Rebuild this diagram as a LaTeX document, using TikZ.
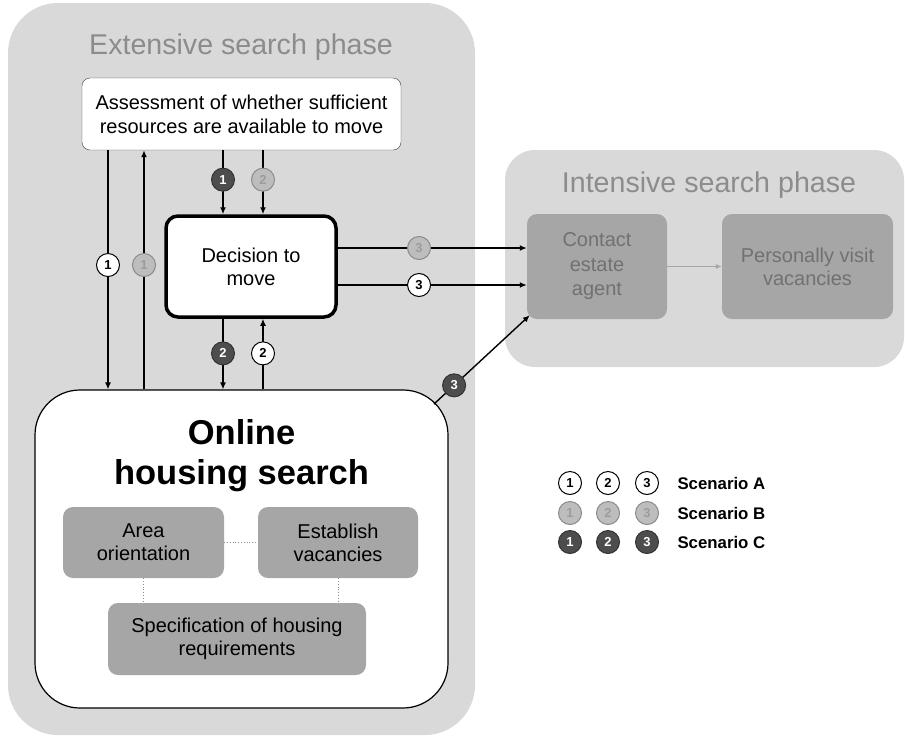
\documentclass[tikz,border=0pt]{standalone}
\usepackage{fontspec}
\setmainfont{Liberation Sans}
\usetikzlibrary{arrows.meta}
\definecolor{bggray}{HTML}{D9D9D9}
\definecolor{titlegray}{HTML}{8C8C8C}
\definecolor{boxgray}{HTML}{A6A6A6}
\definecolor{fadetext}{HTML}{717171}
\definecolor{midfill}{HTML}{BDBDBD}
\definecolor{midline}{HTML}{8A8A8A}
\definecolor{midtext}{HTML}{9C9C9C}
\definecolor{darkfill}{HTML}{4D4D4D}

\begin{document}
\begin{tikzpicture}[x=1pt,y=-1pt,
  phasetitle/.style={text=titlegray,font=\fontsize{28.6}{32}\selectfont},
  whitebox/.style={draw=black!75,fill=white,rounded corners=8pt,align=center,inner sep=0pt,font=\fontsize{20}{24}\selectfont},
  graybox/.style={fill=boxgray,rounded corners=10pt,align=center,inner sep=0pt,font=\fontsize{20}{23}\selectfont},
  arr/.style={line width=1.4pt,-{Latex[length=7pt,width=6pt]}},
  dots/.style={draw=black!45,dotted,line width=0.8pt},
  sc/.style={circle,line width=1pt,minimum size=23pt,inner sep=0pt,font=\fontsize{13}{13}\selectfont\bfseries},
  scA/.style={sc,draw=black,fill=white,text=black},
  scB/.style={sc,draw=midline,fill=midfill,text=midtext},
  scC/.style={sc,draw=black!80,fill=darkfill,text=white}]
\useasboundingbox (0,0) rectangle (905,737);

% the two phases
\fill[bggray,rounded corners=50pt] (8,3) rectangle (475,735);
\fill[bggray,rounded corners=30pt] (505,150) rectangle (904,367);
\node[phasetitle] (exttitle) at (241,47) {Extensive search phase};
\node[phasetitle] (inttitle) at (709,185) {Intensive search phase};

% boxes
\node[whitebox,minimum width=319pt,minimum height=72pt] (assess) at (241.5,114) {Assessment of whether sufficient\\resources are available to move};
\node[whitebox,line width=3.5pt,draw=black,rounded corners=12pt,minimum width=170pt,minimum height=101pt,font=\fontsize{20}{23}\selectfont] (decide) at (251,266.5) {Decision to\\move};
\node[draw=black,line width=1.2pt,fill=white,rounded corners=45pt,minimum width=413pt,minimum height=318pt] (online) at (241.5,549) {};
\node[align=center,font=\fontsize{34.5}{40}\selectfont\bfseries] (onlinetitle) at (241.5,456) {Online\\housing search};
\node[graybox,minimum width=161pt,minimum height=71pt] (area) at (143.5,542.5) {Area\\orientation};
\node[graybox,minimum width=160pt,minimum height=71pt] (establish) at (338,542.5) {Establish\\vacancies};
\node[graybox,minimum width=258pt,minimum height=72pt] (spec) at (237,639) {Specification of housing\\requirements};
\node[graybox,text=fadetext,minimum width=140pt,minimum height=105pt,font=\fontsize{20}{24.5}\selectfont] (contact) at (597,266.5) {Contact\\estate\\agent};
\node[graybox,text=fadetext,minimum width=171pt,minimum height=105pt] (visit) at (807.5,266.5) {Personally visit\\vacancies};

% columns of the vertical connectors
\coordinate (colA) at (108,0);
\coordinate (colB) at (144,0);
\coordinate (colC) at (223,0);
\coordinate (colD) at (263,0);
\coordinate (onlinecorner) at (434,404);

% scenario paths
\draw[arr] (assess.south -| colA) -- (online.north -| colA) node[scA,pos=0.48] (a1) {1};
\draw[arr] (online.north -| colB) -- (assess.south -| colB) node[scB,pos=0.52] (b1) {1};
\draw[arr] (assess.south -| colC) -- (decide.north -| colC) node[scC,pos=0.46] (c1) {1};
\draw[arr] (assess.south -| colD) -- (decide.north -| colD) node[scB,pos=0.46] (b2) {2};
\draw[arr] (decide.south -| colC) -- (online.north -| colC) node[scC,pos=0.49] (c2) {2};
\draw[arr] (online.north -| colD) -- (decide.south -| colD) node[scA,pos=0.51] (a2) {2};
\draw[arr] ([yshift=18.5pt]decide.east) -- ([yshift=18.5pt]contact.west) node[scB,pos=0.43] (b3) {3};
\draw[arr] ([yshift=-18.5pt]decide.east) -- ([yshift=-18.5pt]contact.west) node[scA,pos=0.43] (a3) {3};
\draw[arr] (onlinecorner) -- ([shift={(3pt,4pt)}]contact.south west) node[scC,pos=0.21] (c3) {3};
\draw[draw=black!35,line width=1pt,-{Latex[length=6pt,width=5pt]}] (contact) -- (visit);

% links inside online search
\draw[dots] (area) -- (establish);
\draw[dots] (area.south) -- (area.south |- spec.north);
\draw[dots] (establish.south) -- (establish.south |- spec.north);

% legend
\node[scA] (legA1) at (570,483) {1};
\node[scA] (legA2) at (608,483) {2};
\node[scA] (legA3) at (647,483) {3};
\node[scB] (legB1) at (570,513) {1};
\node[scB] (legB2) at (608,513) {2};
\node[scB] (legB3) at (647,513) {3};
\node[scC] (legC1) at (570,542) {1};
\node[scC] (legC2) at (608,542) {2};
\node[scC] (legC3) at (647,542) {3};
\node[anchor=west,font=\fontsize{16.8}{17}\selectfont\bfseries] (legA) at (674,483) {Scenario A};
\node[anchor=west,font=\fontsize{16.8}{17}\selectfont\bfseries] (legB) at (674,513) {Scenario B};
\node[anchor=west,font=\fontsize{16.8}{17}\selectfont\bfseries] (legC) at (674,542) {Scenario C};

\end{tikzpicture}
\end{document}
